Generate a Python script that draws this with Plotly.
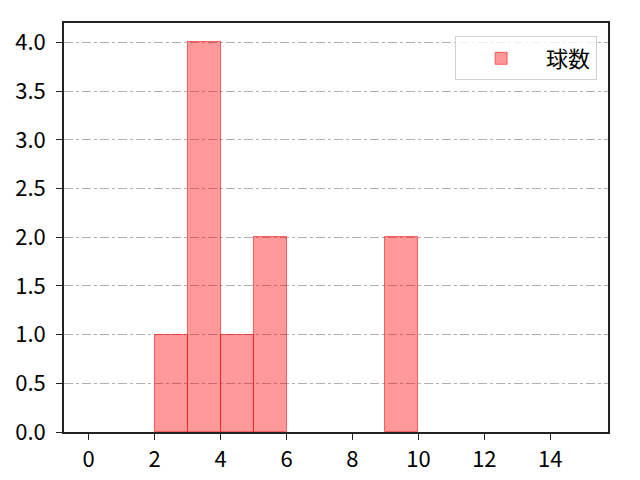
import plotly.graph_objects as go

# histogram of pitch counts (bin centres, width 1)
bin_centres = [2.5, 3.5, 4.5, 5.5, 9.5]
counts = [1, 4, 1, 2, 2]
series_name = "球数"

font_family = "Noto Sans CJK JP, Noto Sans, sans-serif"

fig = go.Figure()
fig.add_trace(go.Bar(
    x=bin_centres, y=counts, width=1, name=series_name,
    marker=dict(color="rgba(255,0,0,0.4)", line=dict(color="rgba(255,0,0,0.55)", width=1)),
    showlegend=True,
))

fig.update_layout(
    width=640, height=480,
    margin=dict(l=64, r=32, t=23, b=48, autoexpand=False),
    plot_bgcolor="white", paper_bgcolor="white",
    font=dict(family=font_family, size=22, color="black"),
    bargap=0,
    legend=dict(x=0.98, y=0.967, xanchor="right", yanchor="top",
                bgcolor="rgba(255,255,255,0.8)", bordercolor="#d0d0d0", borderwidth=1,
                font=dict(family=font_family, size=22, color="black"), itemwidth=80),
)
axis_style = dict(showline=True, linecolor="#222222", linewidth=1.5, mirror=True,
                  ticks="outside", ticklen=6, tickwidth=1.3, tickcolor="#222222",
                  tickfont=dict(family=font_family, size=22, color="black"),
                  zeroline=False, automargin=False)
fig.update_xaxes(range=[-0.75, 15.75], tickvals=list(range(0, 15, 2)), showgrid=False,
                 ticklabelstandoff=1, **axis_style)
fig.update_yaxes(range=[0, 4.2], tickvals=[i * 0.5 for i in range(9)], tickformat=".1f",
                 showgrid=True, gridcolor="#b0b0b0", gridwidth=1, griddash="dashdot",
                 ticklabelstandoff=6, **axis_style)

# page body has a default margin; remove it so the figure sits at the window corner
fig.write_html("out.html", config={"displayModeBar": False},
               post_script="document.body.style.margin='0';")
